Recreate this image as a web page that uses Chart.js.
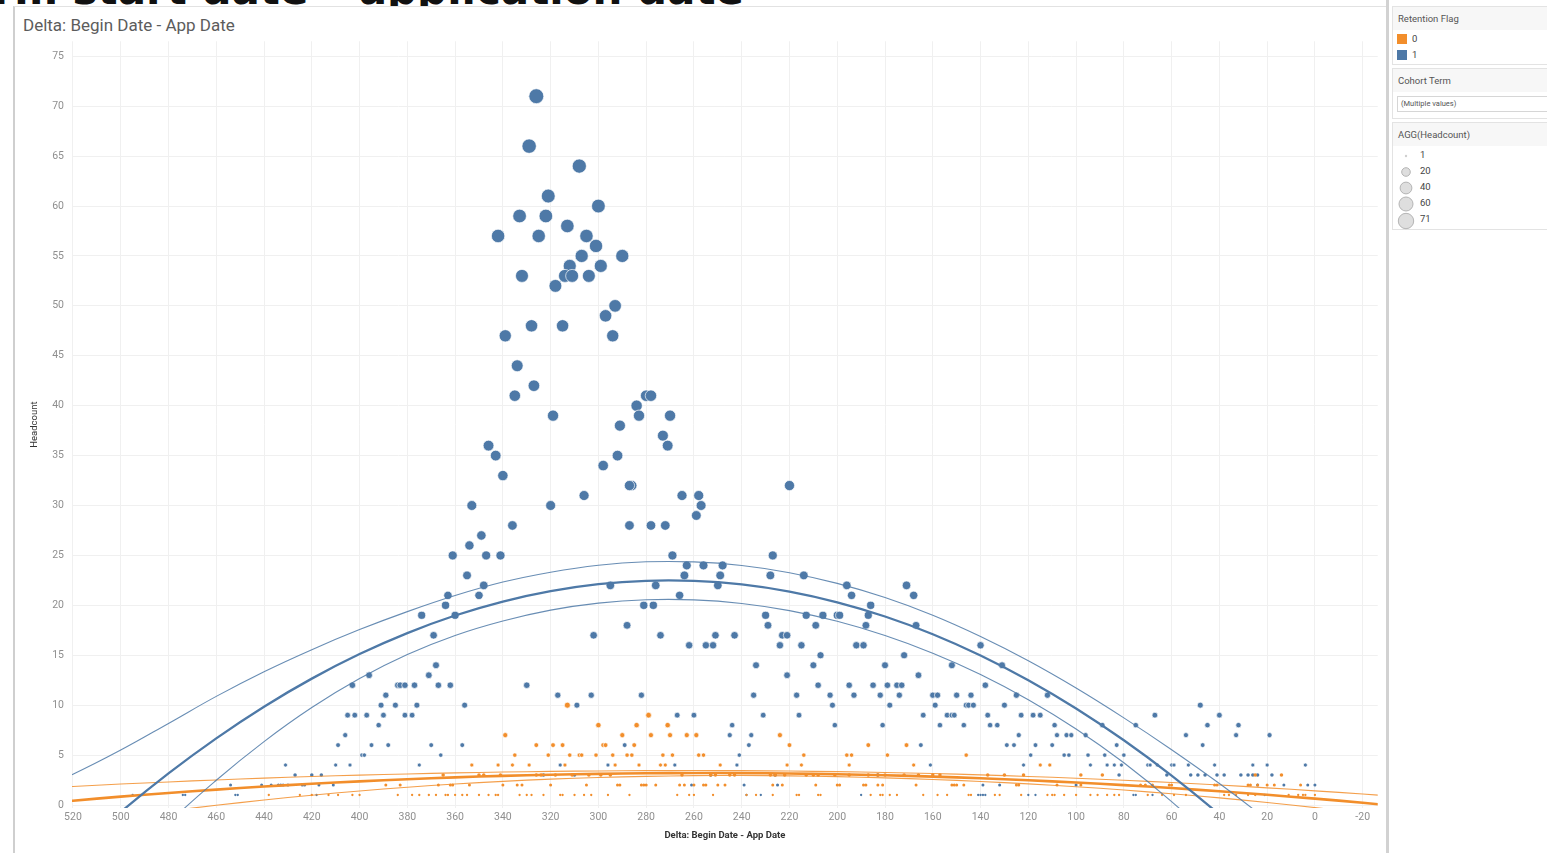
<!doctype html>
<html lang="en">
<head>
<meta charset="utf-8" />
<title>Delta: Begin Date - App Date</title>
<script src="https://cdn.jsdelivr.net/npm/chart.js@4.4.1/dist/chart.umd.min.js"></script>
<style>
    html, body { margin: 0; padding: 0; background: #fff; width: 1547px; height: 853px; overflow: hidden; font-family: Roboto, "Noto Sans", sans-serif; }
    #heading { position: absolute; top: -31px; right: calc(1547px - 744px); font: bold 42px "DejaVu Sans", sans-serif; color: #111; white-space: nowrap; line-height: 1; }
    #panel { position: absolute; left: 13px; top: 6px; width: 1373px; height: 847px; background: #fff; border-left: 2px solid #cfcfcf; border-top: 1px solid #e2e2e2; }
    #divider { position: absolute; left: 1386px; top: 0; width: 3px; height: 853px; background: #d2d2d2; }
    #title { position: absolute; left: 23px; top: 15px; font-size: 17px; color: #5c5c5c; }
    #myChart { position: absolute; left: 16px; top: 27px; }
    .card { position: absolute; left: 1392px; width: 170px; border: 1px solid #e3e3e3; background: #fff; font-size: 9.5px; color: #444; }
    .card .head { background: #f7f7f7; padding: 6px 5px 6px 5px; color: #555; }
    .list { padding-top: 2px; }
    .row { position: relative; height: 16px; }
    .sw { position: absolute; left: 4px; top: 2px; width: 10px; height: 10px; }
    .row span { position: absolute; left: 19px; top: 1px; }
    .drop { margin: 4px 0 5px 4px; border: 1px solid #d6d6d6; height: 14px; font-size: 7.5px; color: #555; line-height: 14px; padding-left: 3px; }
    .size svg { position: absolute; left: 3px; top: 0; }
    .size span { left: 27px; }
</style>
</head>
<body>
<div id="heading">Term start date – application date</div>
<div id="panel"></div>
<div id="divider"></div>
<div id="title">Delta: Begin Date - App Date</div>
<canvas id="myChart" width="1370" height="826"></canvas>

<div class="card" style="top:6px;height:57px">
    <div class="head">Retention Flag</div>
    <div class="list">
        <div class="row"><div class="sw" style="background:#f28e2b"></div><span>0</span></div>
        <div class="row"><div class="sw" style="background:#4e79a7"></div><span>1</span></div>
    </div>
</div>
<div class="card" style="top:68px;height:49px">
    <div class="head">Cohort Term</div>
    <div class="drop">(Multiple values)</div>
</div>
<div class="card size" style="top:122px;height:106px">
    <div class="head">AGG(Headcount)</div>
    <div class="list">
        <div class="row"><svg width="20" height="16"><circle cx="10" cy="8" r="1.2" fill="#cfcfcf"/></svg><span>1</span></div>
        <div class="row"><svg width="20" height="16"><circle cx="10" cy="8" r="4.3" fill="#dedede" stroke="#b5b5b5"/></svg><span>20</span></div>
        <div class="row"><svg width="20" height="16"><circle cx="10" cy="8" r="5.9" fill="#dedede" stroke="#b5b5b5"/></svg><span>40</span></div>
        <div class="row"><svg width="20" height="16"><circle cx="10" cy="8" r="7" fill="#dedede" stroke="#b5b5b5"/></svg><span>60</span></div>
        <div class="row"><svg width="20" height="18"><circle cx="10" cy="9" r="7.7" fill="#dedede" stroke="#b5b5b5"/></svg><span>71</span></div>
    </div>
</div>

<script>
    // tick labels
    const xTicks = [520, 500, 480, 460, 440, 420, 400, 380, 360, 340, 320, 300, 280, 260, 240, 220, 200, 180, 160, 140, 120, 100, 80, 60, 40, 20, 0, -20];
    const yTicks = [0, 5, 10, 15, 20, 25, 30, 35, 40, 45, 50, 55, 60, 65, 70, 75];

    // retention flag 1 : [delta days, headcount]
    const retained = [
        [326,71],[329,66],[308,64],[321,61],[300,60],[333,59],[322,59],[313,58],[342,57],[325,57],[305,57],[301,56],
        [307,55],[290,55],[312,54],[299,54],[332,53],[314,53],[311,53],[304,53],[318,52],[293,50],[297,49],[328,48],
        [315,48],[339,47],[294,47],[334,44],[327,42],[335,41],[280,41],[278,41],[284,40],[319,39],[283,39],[270,39],
        [291,38],[273,37],[271,36],[346,36],[343,35],[292,35],[298,34],[340,33],[220,32],[286,32],[287,32],[353,30],
        [320,30],[306,31],[265,31],[258,31],[257,30],[259,29],[336,28],[287,28],[278,28],[272,28],[349,27],[354,26],
        [361,25],[347,25],[341,25],[269,25],[227,25],[355,23],[263,24],[256,24],[248,24],[264,23],[249,23],[228,23],
        [214,23],[363,21],[348,22],[295,22],[276,22],[250,22],[196,22],[171,22],[350,21],[266,21],[194,21],[168,21],
        [364,20],[281,20],[277,20],[186,20],[374,19],[360,19],[230,19],[213,19],[206,19],[200,19],[199,19],[187,19],
        [288,18],[229,18],[209,18],[188,18],[167,18],[369,17],[302,17],[274,17],[243,17],[251,17],[223,17],[221,17],
        [262,16],[255,16],[252,16],[224,16],[215,16],[192,16],[189,16],[140,16],[207,15],[172,15],
        [368,14],[234,14],[210,14],[180,14],[152,14],[131,14],
        [371,13],[396,13],[221,13],[166,13],
        [403,12],[384,12],[383,12],[381,12],[377,12],[367,12],[362,12],[330,12],[208,12],[195,12],[185,12],[179,12],[175,12],[173,12],[138,12],
        [389,11],[317,11],[303,11],[282,11],[235,11],[217,11],[203,11],[193,11],[182,11],[174,11],[160,11],[158,11],[150,11],[144,11],[125,11],[112,11],
        [391,10],[385,10],[376,10],[356,10],[309,10],[202,10],[178,10],[159,10],[146,10],[145,10],[143,10],[130,10],[48,10],
        [405,9],[402,9],[397,9],[390,9],[381,9],[378,9],[267,9],[260,9],[231,9],[216,9],[164,9],[154,9],[152,9],[151,9],[137,9],[123,9],[118,9],[115,9],[67,9],[40,9],
        [392,8],[244,8],[201,8],[181,8],[157,8],[147,8],[136,8],[133,8],[109,8],[89,8],[75,8],[45,8],[32,8],
        [406,7],[245,7],[236,7],[124,7],[108,7],[104,7],[102,7],[96,7],[54,7],[33,7],[19,7],
        [409,6],[395,6],[388,6],[370,6],[357,6],[289,6],[237,6],[165,6],[129,6],[126,6],[117,6],[110,6],[83,6],[47,6],
        [399,5],[398,5],[366,5],[241,5],[119,5],[105,5],[103,5],[95,5],[88,5],[80,5],
        [431,4],[410,4],[404,4],[375,4],[316,4],[296,4],[268,4],[242,4],[161,4],[122,4],[94,4],[87,4],[84,4],[81,4],[70,4],[69,4],[66,4],[60,4],[59,4],[53,4],[42,4],[26,4],[20,4],[4,4],
        [427,3],[420,3],[416,3],[323,3],[310,3],[253,3],[226,3],[183,3],[82,3],[62,3],[52,3],[49,3],[46,3],[41,3],[38,3],[31,3],[28,3],[26,3],[24,3],[18,3],
        [454,2],[441,2],[437,2],[434,2],[433,2],[432,2],[430,2],[424,2],[423,2],[417,2],[411,2],[261,2],[239,2],[225,2],[139,2],[132,2],[100,2],[24,2],[13,2],[3,2],[0,2],
        [495,1],[474,1],[473,1],[452,1],[451,1],[418,1],[238,1],[232,1],[190,1],[141,1],[140,1],[139,1],[138,1],[120,1],[117,1],[76,1],[75,1],[68,1],[21,1]
    ];

    // retention flag 0 : [delta days, headcount]
    const notRetained = [
        [313,10],[279,9],[300,8],[284,8],[271,8],[339,7],[290,7],[278,7],[270,7],[263,7],[259,7],[224,7],
        [326,6],[319,6],[315,6],[298,6],[297,6],[285,6],[220,6],[187,6],[171,6],
        [335,5],[321,5],[312,5],[308,5],[307,5],[301,5],[294,5],[288,5],[286,5],[273,5],[269,5],[258,5],[256,5],[214,5],[196,5],[194,5],[179,5],[146,5],
        [353,4],[342,4],[336,4],[329,4],[314,4],[293,4],[283,4],[274,4],[272,4],[249,4],[221,4],[215,4],[195,4],[168,4],[115,4],[111,4],
        [365,3],[350,3],[348,3],[341,3],[326,3],[324,3],[318,3],[311,3],[304,3],[299,3],[295,3],[265,3],[253,3],[251,3],[245,3],[243,3],[228,3],
        [226,3],[222,3],[213,3],[210,3],[208,3],[201,3],[195,3],[187,3],[183,3],[180,3],[172,3],[166,3],[160,3],[157,3],[137,3],[130,3],[122,3],
        [98,3],[89,3],[25,3],[14,3],
        [389,2],[383,2],[367,2],[362,2],[361,2],[354,2],[340,2],[334,2],[332,2],[320,2],[305,2],[292,2],[291,2],[282,2],[281,2],[280,2],[276,2],
        [266,2],[264,2],[260,2],[256,2],[255,2],[250,2],[247,2],[227,2],[223,2],[209,2],[200,2],[199,2],[189,2],[188,2],[183,2],[181,2],[167,2],
        [152,2],[151,2],[150,2],[147,2],[125,2],[124,2],[108,2],[98,2],[73,2],[71,2],[68,2],[61,2],[60,2],[42,2],[41,2],[28,2],[27,2],[24,2],
        [20,2],[17,2],[6,2],
        [438,1],[425,1],[420,1],[413,1],[409,1],[403,1],[400,1],[384,1],[378,1],[375,1],[371,1],[368,1],[364,1],[363,1],[360,1],[357,1],[355,1],
        [350,1],[346,1],[343,1],[342,1],[333,1],[330,1],[328,1],[323,1],[316,1],[315,1],[310,1],[306,1],[303,1],[296,1],[287,1],[267,1],[262,1],
        [260,1],[252,1],[238,1],[234,1],[227,1],[217,1],[216,1],[208,1],[207,1],[186,1],[182,1],[181,1],[178,1],[175,1],[164,1],[158,1],[154,1],
        [145,1],[144,1],[134,1],[132,1],[123,1],[112,1],[110,1],[109,1],[105,1],[100,1],[94,1],[91,1],[87,1],[84,1],[82,1],[70,1],[64,1],[59,1],
        [54,1],[38,1],[36,1],[33,1],[28,1],[25,1],[11,1],[7,1],[5,1],[4,1],[0,1]
    ];

    // polynomial trend lines (value at each trendDays entry)
    const trendDays   = [540, 520, 500, 480, 460, 440, 420, 400, 380, 360, 340, 320, 300, 280, 260, 240, 220, 200, 180, 160, 140, 120, 100, 80, 60, 40, 20, 0, -20, -40];
    const blueFit     = [-9.5, -4.92, -0.7, 3.17, 6.68, 9.85, 12.66, 15.12, 17.22, 18.98, 20.38, 21.42, 22.12, 22.46, 22.45, 22.09, 21.37, 20.3, 18.88, 17.11, 14.98, 12.5, 9.67, 6.48, 2.94, -0.95, -5.19, -9.79, -14.73, -20.03];
    const blueUpper   = [1.0, 3.08, 5.5, 8.17, 10.88, 13.35, 15.56, 17.57, 19.37, 20.98, 22.33, 23.32, 24.02, 24.36, 24.35, 23.99, 23.27, 22.2, 20.78, 19.01, 16.88, 14.45, 11.72, 8.73, 5.54, 2.15, -1.49, -5.29, -9.33, -13.53];
    const blueLower   = [-20.0, -12.92, -6.9, -1.83, 2.48, 6.35, 9.76, 12.67, 15.07, 16.98, 18.43, 19.52, 20.22, 20.56, 20.55, 20.19, 19.47, 18.4, 16.98, 15.21, 13.08, 10.55, 7.62, 4.23, 0.34, -4.05, -8.89, -14.29, -20.13, -26.53];
    const orangeFit   = [0, 0.43, 0.84, 1.21, 1.54, 1.85, 2.13, 2.37, 2.58, 2.77, 2.92, 3.03, 3.12, 3.18, 3.2, 3.19, 3.15, 3.08, 2.98, 2.84, 2.68, 2.48, 2.25, 1.99, 1.7, 1.38, 1.02, 0.64, 0.22, -0.23];
    const orangeUpper = [1.61, 1.86, 2.1, 2.31, 2.51, 2.69, 2.85, 2.99, 3.11, 3.22, 3.3, 3.37, 3.41, 3.44, 3.45, 3.44, 3.4, 3.34, 3.26, 3.15, 3.02, 2.86, 2.68, 2.48, 2.25, 2.0, 1.72, 1.42, 1.1, 0.75];
    const orangeLower = [-2.66, -1.92, -1.24, -0.61, -0.03, 0.5, 0.98, 1.4, 1.78, 2.1, 2.37, 2.59, 2.76, 2.87, 2.94, 2.95, 2.92, 2.84, 2.72, 2.56, 2.36, 2.12, 1.83, 1.5, 1.12, 0.71, 0.25, -0.26, -0.8, -1.39];

    const BLUE = '#4e79a7';
    const ORANGE = '#f28e2b';
    const FONT = 'Roboto, "Noto Sans", sans-serif';

    // bubble size follows headcount (area proportional)
    function markRadius(h) {
        return 0.3 + 0.85 * Math.sqrt(h);
    }

    function toPoints(pairs) {
        return pairs.map(p => ({x: p[0], y: p[1]}));
    }

    function trendLine(values, color, width) {
        return {
            type: 'line',
            data: trendDays.map((d, i) => ({x: d, y: values[i]})),
            borderColor: color,
            borderWidth: width,
            pointRadius: 0,
            tension: 0.4,
            fill: false,
            order: 0
        };
    }

    function markSet(pairs, color, order) {
        return {
            type: 'scatter',
            data: toPoints(pairs),
            backgroundColor: color,
            borderColor: 'rgba(255,255,255,0.85)',
            borderWidth: c => (c.raw && c.raw.y >= 4 ? 0.8 : 0),
            pointRadius: c => markRadius(c.raw ? c.raw.y : 1),
            order: order
        };
    }

    const mychart = new Chart(document.getElementById('myChart'), {
        type: 'scatter',
        data: {
            datasets: [
                markSet(retained, BLUE, 3),
                markSet(notRetained, ORANGE, 2),
                trendLine(blueUpper, 'rgba(78,121,167,0.85)', 1.1),
                trendLine(blueLower, 'rgba(78,121,167,0.85)', 1.1),
                trendLine(blueFit, BLUE, 2.3),
                trendLine(orangeUpper, 'rgba(242,142,43,0.85)', 1.1),
                trendLine(orangeLower, 'rgba(242,142,43,0.85)', 1.1),
                trendLine(orangeFit, ORANGE, 2.6)
            ]
        },
        options: {
            responsive: false,
            devicePixelRatio: 1,
            animation: false,
            events: [],
            layout: { padding: { right: 4, top: 0, left: 0, bottom: 0 } },
            plugins: { legend: { display: false }, tooltip: { enabled: false } },
            scales: {
                x: {
                    type: 'linear',
                    reverse: true,
                    min: -26.3,
                    max: 520.4,
                    afterBuildTicks: s => { s.ticks = xTicks.map(v => ({value: v})); },
                    afterFit: s => { s.height = 45; },
                    grid: { color: '#f0f0f0', drawTicks: false },
                    border: { display: false },
                    ticks: { color: '#8f8f8f', font: { family: FONT, size: 10.5 }, padding: 3, maxRotation: 0, autoSkip: false },
                    title: { display: true, text: 'Delta: Begin Date - App Date', color: '#333', font: { family: FONT, size: 9.5, weight: 'bold' }, padding: { top: 0, bottom: 12 } }
                },
                y: {
                    type: 'linear',
                    min: -0.3,
                    max: 76.5,
                    afterBuildTicks: s => { s.ticks = yTicks.map(v => ({value: v})); },
                    afterFit: s => { s.width = 56; },
                    grid: { color: '#f0f0f0', drawTicks: false },
                    border: { display: false },
                    ticks: { color: '#8f8f8f', font: { family: FONT, size: 10.5 }, padding: 8 },
                    title: { display: true, text: 'Headcount', color: '#333', font: { family: FONT, size: 9.5 }, padding: { top: 13, bottom: 0 } }
                }
            }
        }
    });
</script>
</body>
</html>
